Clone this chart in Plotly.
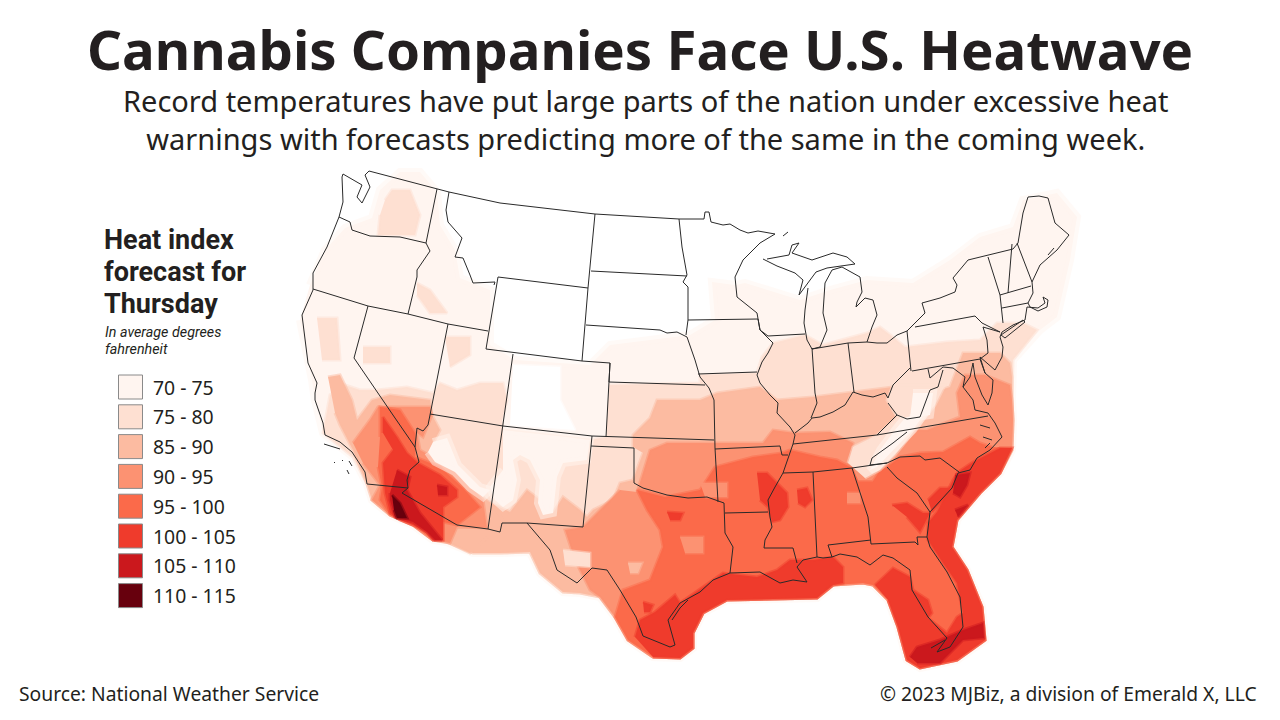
import plotly.graph_objects as go

# legend
band_labels = ["70 - 75", "75 - 80", "85 - 90", "90 - 95", "95 - 100", "100 - 105", "105 - 110", "110 - 115"]
band_colors = ["#FFF5F0", "#FEE0D2", "#FCBBA1", "#FC9272", "#FB6A4A", "#EF3B2C", "#CB181D", "#67000D"]

# outer edge of the forecast raster, in map units
edge_atlantic = [(1012,400),(1013,420),(1012,450),(1000,473),(980,493),(957,520),(952,547),(967,570),(982,607),(985,640),(957,660),(920,668),(907,660),(898,627),(888,600),(873,585)]
edge_gulf = [(863,583),(833,585),(817,598),(727,600),(703,613),(693,633),(693,648),(680,658),(653,657),(628,640)]
edge_mexico = [(615,617),(600,597),(580,593),(563,592),(540,573),(530,552),(500,553),(473,553),(447,542),(433,540),(413,525),(390,515),(372,500),(367,484)]
edge_pacific = [(353,457),(323,433),(315,400),(312,380),(300,320)]

# heat zones
zone70_north = [(310,285),(325,250),(345,228),(372,218),(380,190),(400,172),(420,172),(437,192),(440,225),(455,250),(460,278),(490,290),(490,345),(515,360),(590,365),(610,345),(650,340),(690,335),(715,320),(712,282),(735,285),(745,283),(800,300),(830,290),(867,280),(913,283),(950,260),(980,237),(1013,227),(1023,200),(1057,193),(1077,217),(1070,260),(1057,317),(1040,330),(1013,360)]
zone75_north = [(609,385),(700,383),(700,375),(757,373),(762,357),(773,343),(805,335),(823,345),(867,333),(880,327),(893,337),(905,347),(947,342),(980,340),(997,323),(1023,323),(1037,330),(1013,360)]
zone75_west = [(323,433),(330,395),(345,385),(360,390),(377,390),(407,387),(433,393),(440,383),(457,390),(480,383),(503,383),(507,400),(502,420),(503,430),(590,440),(606,437)]
zone85_north = [(633,447),(633,435),(650,418),(657,400),(700,400),(717,393),(760,387),(777,400),(813,397),(853,392),(893,387),(925,395),(950,387),(963,353),(1000,353),(1010,363),(1012,377)]
zone85_south = [(447,542),(467,510),(480,497),(495,505),(510,512),(527,490),(540,500),(553,513),(563,497),(580,510),(587,517),(593,510),(613,500),(620,483),(633,480),(643,453)]
zone85_west = [(328,377),(340,375),(352,400),(357,420),(372,400),(390,395),(430,400),(432,415),(440,430),(432,445),(443,463),(465,480),(483,497),(500,515),(505,525),(490,535),(470,553),(447,542),(433,540),(413,525),(390,515),(372,500),(367,484),(353,450),(340,425),(335,413)]
zone90_main = [(637,492),(650,450),(667,443),(715,443),(763,443),(773,430),(795,433),(830,432),(853,443),(850,463),(877,468),(893,453),(913,430),(927,430),(960,417),(957,393),(965,375),(985,375),(1010,385)]
zone90_tail = [(615,617),(600,597),(590,590),(575,560),(565,530),(583,527),(600,510),(620,490)]
zone90_west = [(353,443),(370,420),(378,407),(400,407),(430,407),(432,415),(423,437),(417,433),(420,450),(443,463),(465,480),(483,500),(487,528),(457,527),(450,543),(433,540),(413,525),(390,515),(372,500),(380,485),(363,463)]
zone95_main = [(1012,448)]
zone95_north = [(615,617),(623,590),(650,580),(663,547),(660,530),(647,510),(637,490),(665,497),(700,490),(715,467),(753,457),(782,453),(790,450),(820,457),(837,460),(850,467),(880,470),(887,467),(900,457),(920,453),(943,452),(970,437),(980,443),(992,447)]
zone95_west = [(380,437),(380,407),(400,410),(415,433),(415,457),(440,467),(463,488),(480,507),(457,525),(443,522),(443,540),(433,540),(413,525),(390,515),(380,500),(382,487),(378,467)]
zone100_atlantic = [(875,585),(893,568),(910,577),(913,590),(928,600),(932,613),(928,618),(947,633),(957,617),(963,613),(957,583),(943,563),(928,540),(928,523),(937,512),(953,480),(958,472),(973,462),(1000,448),(1012,448),(1000,473),(980,493),(957,520),(952,547),(967,570),(982,607),(985,640),(957,660),(920,668),(907,660),(898,627),(888,600)]
zone100_gulf = [(635,637),(640,620),(655,612),(675,595),(680,603),(713,580),(723,573),(757,577),(777,570),(790,560),(813,560),(833,557),(843,567),(843,583),(833,585),(817,598),(727,600),(703,613),(693,633),(693,648),(680,658),(653,657)]
zone100_delta = [(757,473),(767,473),(787,493),(788,507),(780,520),(772,522),(768,507),(760,500)]
zone100_ms = [(797,490),(807,488),(812,500),(805,507),(798,503)]
zone100_ga = [(892,505),(907,503),(923,513),(930,513),(920,532),(907,517)]
zone100_sc = [(928,500),(940,488),(953,488),(932,512)]
zone100_ok = [(667,512),(683,513),(680,520),(670,520)]
zone100_tx = [(643,602),(653,605),(650,612),(644,612)]
zone100_west = [(383,433),(383,417),(397,437),(407,453),(418,463),(440,475),(457,490),(457,497),(443,507),(443,523),(443,540),(433,540),(427,532),(413,525),(400,520),(390,513),(385,493),(383,463),(393,450)]
zone105_sc = [(955,475),(970,473),(967,485),(960,497),(953,493)]
zone105_sc2 = [(955,510),(968,505),(958,517)]
zone105_fl = [(910,657),(917,647),(940,640),(963,630),(983,623),(984,638),(963,640),(940,663),(917,663)]
zone105_west = [(397,470),(410,477),(407,490),(420,513),(442,540),(435,540),(427,532),(413,522),(395,517),(390,500),(390,493)]
zone105_phx = [(437,485),(447,487),(447,495),(438,495)]
zone110_yuma = [(392,495),(400,503),(407,518),(397,518),(394,510)]

# cooler pockets painted over the bands above them
pocket_wa = [(385,200),(392,190),(410,190),(420,215),(415,235),(378,235),(380,215)]
pocket_id = [(417,283),(430,290),(447,313),(430,313),(417,295)]
pocket_nv = [(363,347),(390,347),(390,363),(363,363)]
pocket_ut = [(445,337),(470,337),(470,355),(450,367)]
pocket_sac = [(317,318),(337,318),(340,360),(322,360)]
pocket_co = [(513,365),(560,367),(560,400),(575,430),(510,425)]
pocket_nm = [(503,430),(527,432),(567,437),(590,440),(587,460),(563,463),(557,477),(553,513),(543,515),(538,503),(540,480),(530,460),(520,455),(513,460),(517,480),(513,500),(503,507),(495,500),(490,487),(503,470)]
pocket_az = [(433,442),(447,438),(458,465),(480,487),(490,490),(483,497),(470,488),(455,472),(435,462),(428,452)]
pocket_ky = [(848,463),(853,447),(877,435),(897,417),(887,400),(893,385),(945,385),(935,405),(915,430),(895,455),(880,470),(865,478)]
pocket_smoky = [(927,410),(913,430),(900,443),(887,458),(877,467),(870,470),(880,450),(895,430),(905,418)]
pocket_wv = [(913,393),(933,393),(930,415),(910,418)]
pocket_tx = [(628,563),(642,563),(638,573),(630,573)]
pocket_bigbend = [(563,550),(590,553),(590,567),(565,565)]
pocket_tx2 = [(680,537),(703,537),(703,553),(685,553)]
pocket_ar = [(700,483),(727,483),(727,497),(705,497)]
pocket_al = [(847,493),(860,493),(860,503),(847,503)]
pocket_tn = [(853,468),(880,468),(872,480),(858,480)]

# draw order, coolest first, band is an index into band_labels, None leaves it blank
zones = [
    (0, zone70_north + edge_atlantic + edge_gulf + edge_mexico + edge_pacific),
    (None, pocket_co),
    (1, zone75_north + [(1012,400)] + edge_atlantic + edge_gulf + edge_mexico + edge_pacific[:2] + zone75_west),
    (1, pocket_wa), (1, pocket_id), (1, pocket_nv), (1, pocket_ut), (1, pocket_sac),
    (2, zone85_north + [(1012,400)] + edge_atlantic + edge_gulf + edge_mexico[:9] + zone85_south),
    (2, zone85_west),
    (3, zone90_main + [(1012,400)] + edge_atlantic + edge_gulf + zone90_tail),
    (3, zone90_west),
    (4, zone95_main + edge_atlantic[3:] + edge_gulf + zone95_north),
    (4, zone95_west),
    (3, pocket_tx2), (3, pocket_ar), (3, pocket_al), (3, pocket_tn),
    (2, pocket_tx), (1, pocket_bigbend),
    (5, zone100_atlantic), (5, zone100_gulf), (5, zone100_delta), (5, zone100_ms),
    (5, zone100_ga), (5, zone100_sc), (5, zone100_ok), (5, zone100_tx), (5, zone100_west),
    (6, zone105_sc), (6, zone105_sc2), (6, zone105_fl), (6, zone105_west), (6, zone105_phx),
    (7, zone110_yuma),
    (1, pocket_ky), (0, pocket_smoky), (0, pocket_wv), (0, pocket_nm), (0, pocket_az),
]

# coast and borders
coast_west = [(369,171),(365,175),(370,187),(362,203),(357,197),(362,185),(343,174),(342,177),(343,202),(339,217),(327,247),(313,273),(313,290),(302,315),(308,363),(317,383),(315,393),(315,400),(323,423),(325,435),(340,442),(352,452),(365,472),(367,484)]
border_canada = [(369,171),(437,189),(449,192),(500,203),(595,214),(679,219),(704,219),(705,212),(709,212),(711,222),(723,225),(730,224),(740,230),(748,233),(758,231),(775,234),(760,243),(743,260)]
coast_upper_mi = [(763,259),(777,266),(795,273),(803,280),(799,295),(808,283),(816,272),(827,268),(842,266),(855,264),(847,257),(833,253),(812,260),(792,253),(799,243),(792,245),(789,255),(767,259)]
coast_lake_mi = [(808,288),(805,310),(804,323),(807,340),(812,349),(820,347),(827,330),(823,313),(825,283),(832,270),(842,267),(860,277),(862,292),(857,302),(856,307),(865,298),(873,300),(877,315),(872,327),(867,342),(877,343),(887,343),(897,335),(907,331),(925,313),(922,303),(940,298),(955,292),(957,285),(953,278),(968,260),(1013,249),(1018,243),(1023,213),(1028,197),(1039,196),(1048,198),(1055,223),(1069,235),(1057,250),(1040,265),(1032,282),(1033,293),(1028,303),(1030,307),(1038,311),(1047,307),(1048,300),(1043,297),(1045,303),(1038,308),(1027,307),(1025,320),(1013,325),(1002,332),(1000,337),(1003,347),(1002,357),(995,370),(980,357),(985,373),(993,380),(992,393),(988,405),(982,395),(975,377),(973,363),(970,377),(963,387),(973,400),(975,410),(988,413),(995,423),(1002,437),(990,450),(977,458),(970,470),(958,473),(952,488),(930,512),(927,537),(930,547),(947,572),(960,597),(963,627),(950,647),(937,652),(947,638),(928,617),(912,590),(910,570),(893,558),(883,555),(870,565),(857,557),(840,554),(832,557),(823,558),(817,557),(803,560),(797,567),(807,582),(793,580),(780,583),(760,572),(730,573),(713,580),(700,592),(680,603),(668,620),(675,645),(670,647),(643,636),(636,617),(620,590),(607,570),(592,568),(577,583),(557,570),(550,550),(527,523),(502,523),(500,532),(488,529),(457,525),(402,493),(408,488),(367,484)]
long_island = [(1001,335),(1023,320),(1025,322),(1005,338),(1001,335)]
state_lines = [
    [(339,217),(350,222),(352,230),(370,236),(400,237),(426,243)],
    [(437,189),(426,243),(430,251),(417,270),(417,277),(408,314)],
    [(313,289),(368,306),(408,314),(448,324),(488,331)],
    [(368,306),(354,358),(395,418),(415,447),(419,462),(410,470),(407,480),(408,488)],
    [(448,324),(430,414),(428,425),(423,431),(417,428),(415,447)],
    [(449,192),(446,210),(448,222),(462,238),(455,257),(463,258),(470,275),(473,283),(495,282),(494,285)],
    [(498,277),(588,288),(582,361),(486,349),(498,277)],
    [(595,214),(588,288)],
    [(591,271),(687,276)],
    [(586,325),(660,330),(667,333),(677,332),(687,337)],
    [(679,219),(682,247),(687,275),(683,282),(688,287),(688,320),(686,335)],
    [(688,320),(758,319)],
    [(582,361),(610,363),(609,382),(705,385)],
    [(687,337),(695,360),(700,377),(709,388),(714,400),(715,448),(718,502)],
    [(513,354),(503,426),(488,529)],
    [(430,414),(503,426),(592,436),(714,440)],
    [(610,363),(606,437)],
    [(592,436),(583,527),(527,523)],
    [(591,446),(634,448),(634,483),(643,488),(667,495),(688,498),(707,497),(724,503),(725,533),(733,547),(730,573)],
    [(715,449),(780,446),(782,455),(788,455)],
    [(793,444),(813,442),(877,435),(988,416)],
    [(783,473),(813,472),(852,468),(887,463),(870,465),(872,458),(893,443),(907,432)],
    [(725,513),(768,512)],
    [(793,444),(788,458),(783,473),(775,487),(768,500),(770,517),(772,527),(765,540),(764,548),(793,548),(797,563)],
    [(813,472),(817,557)],
    [(852,468),(868,517),(871,544),(915,542),(918,545),(917,537),(927,537)],
    [(828,545),(871,540)],
    [(828,545),(832,557)],
    [(887,467),(897,478),(917,493),(930,512)],
    [(887,463),(900,457),(920,456),(925,460),(940,458),(959,472)],
    [(812,348),(815,393),(817,403),(811,418)],
    [(795,433),(808,423),(812,418),(820,417),(833,412),(845,405),(853,392),(862,395),(873,397),(885,393),(888,398),(893,385),(910,368)],
    [(758,319),(760,330),(773,343),(768,353),(762,362),(757,375),(760,383),(770,395),(778,403),(777,413),(790,427),(795,435),(793,444)],
    [(698,374),(757,372)],
    [(743,260),(735,277),(737,297),(757,313),(760,330),(768,336),(805,334)],
    [(848,343),(854,392)],
    [(812,349),(848,343),(867,342)],
    [(907,331),(911,371)],
    [(915,327),(975,316),(982,323),(1000,332)],
    [(1000,332),(983,327),(987,340),(988,353),(980,359),(912,371)],
    [(928,369),(930,378),(943,367),(953,368),(965,377),(963,387)],
    [(943,370),(938,387),(930,390),(920,417),(907,419),(897,415),(888,403)],
    [(897,415),(877,435)],
    [(988,257),(1000,295),(1003,323)],
    [(1000,295),(1031,286)],
    [(1002,308),(1028,303)],
    [(1012,244),(1008,293)],
    [(1017,243),(1032,282)],
    [(980,359),(985,373)],
]
islands = [
    [(324,444),(330,446),(340,449)],
    [(334,462),(335,463)],
    [(342,460),(343,461)],
    [(349,461),(352,466)],
    [(347,470),(349,474)],
    [(783,236),(788,232)],
    [(931,648),(945,640)],
    [(980,425),(990,428)],
    [(983,437),(992,440)],
    [(985,448),(990,443)],
    [(672,620),(680,608),(688,600)],
    [(1048,255),(1054,248)],
]

# text
title = "Cannabis Companies Face U.S. Heatwave"
subtitle = ["Record temperatures have put large parts of the nation under excessive heat",
            "warnings with forecasts predicting more of the same in the coming week."]
legend_title = ["Heat index", "forecast for", "Thursday"]
legend_note = ["In average degrees", "fahrenheit"]
source = "Source: National Weather Service"
credit = "© 2023 MJBiz, a division of Emerald X, LLC"

FONT = "Noto Sans"
TIGHT_FONT = "Roboto"  # shorter line box, the legend heading is set tight
INK = "#231f20"


def polyline_arrays(lines):
    xs, ys = [], []
    for line in lines:
        xs += [p[0] for p in line] + [None]
        ys += [p[1] for p in line] + [None]
    return xs, ys


def half_alpha(color):
    r, g, b = int(color[1:3], 16), int(color[3:5], 16), int(color[5:7], 16)
    return f"rgba({r},{g},{b},0.5)"


fig = go.Figure()

for band, pts in zones:
    color = "#FFFFFF" if band is None else band_colors[band]
    # half transparent outline so the zone edges read like the soft raster
    fig.add_trace(go.Scatter(
        x=[p[0] for p in pts], y=[p[1] for p in pts],
        mode="lines", fill="toself", fillcolor=color,
        line=dict(width=8 if band == 0 else 3, color=half_alpha(color)),
        name="" if band is None else band_labels[band],
        hoverinfo="skip", showlegend=False,
    ))

xs, ys = polyline_arrays(state_lines + [coast_west, border_canada, coast_upper_mi, coast_lake_mi, long_island] + islands)
fig.add_trace(go.Scatter(x=xs, y=ys, mode="lines", line=dict(color="#2a2a2a", width=1),
                         hoverinfo="skip", showlegend=False))

# legend swatches
swatch_y = [387 + 29.8 * i for i in range(len(band_labels))]
fig.add_trace(go.Scatter(
    x=[130.5] * len(band_labels), y=swatch_y, mode="markers",
    marker=dict(symbol="square", size=24, color=band_colors, line=dict(color="#8a8a8a", width=1)),
    hoverinfo="skip", showlegend=False,
))


def label(x, y, text, size, anchor="left", bold=False, italic=False, family=FONT):
    fig.add_annotation(x=x, y=y, xref="x", yref="y", text=text, showarrow=False,
                       xanchor=anchor, yanchor="middle",
                       font=dict(family=family, size=size, color=INK,
                                 weight="bold" if bold else "normal",
                                 style="italic" if italic else "normal"))


label(640, 49, title, 54.6, "center", bold=True)
label(646, 119, "<br>".join(subtitle), 29, "center")
for i, line in enumerate(legend_title):
    label(102, 240 + 32 * i, line, 27, bold=True, family=TIGHT_FONT)
for i, line in enumerate(legend_note):
    label(103, 332 + 17 * i, line, 14.3, italic=True, family=TIGHT_FONT)
for y, text in zip(swatch_y, band_labels):
    label(151, y, text, 19.4)
label(17, 693, source, 19.3)
label(1259, 693, credit, 19.3, "right")

fig.update_xaxes(range=[0, 1280], visible=False)
fig.update_yaxes(range=[720, 0], visible=False)
fig.update_layout(width=1280, height=720, margin=dict(l=0, r=0, t=0, b=0),
                  paper_bgcolor="white", plot_bgcolor="white", showlegend=False)
fig.write_html("out.html", config=dict(displayModeBar=False),
               post_script="document.body.style.margin='0';")
